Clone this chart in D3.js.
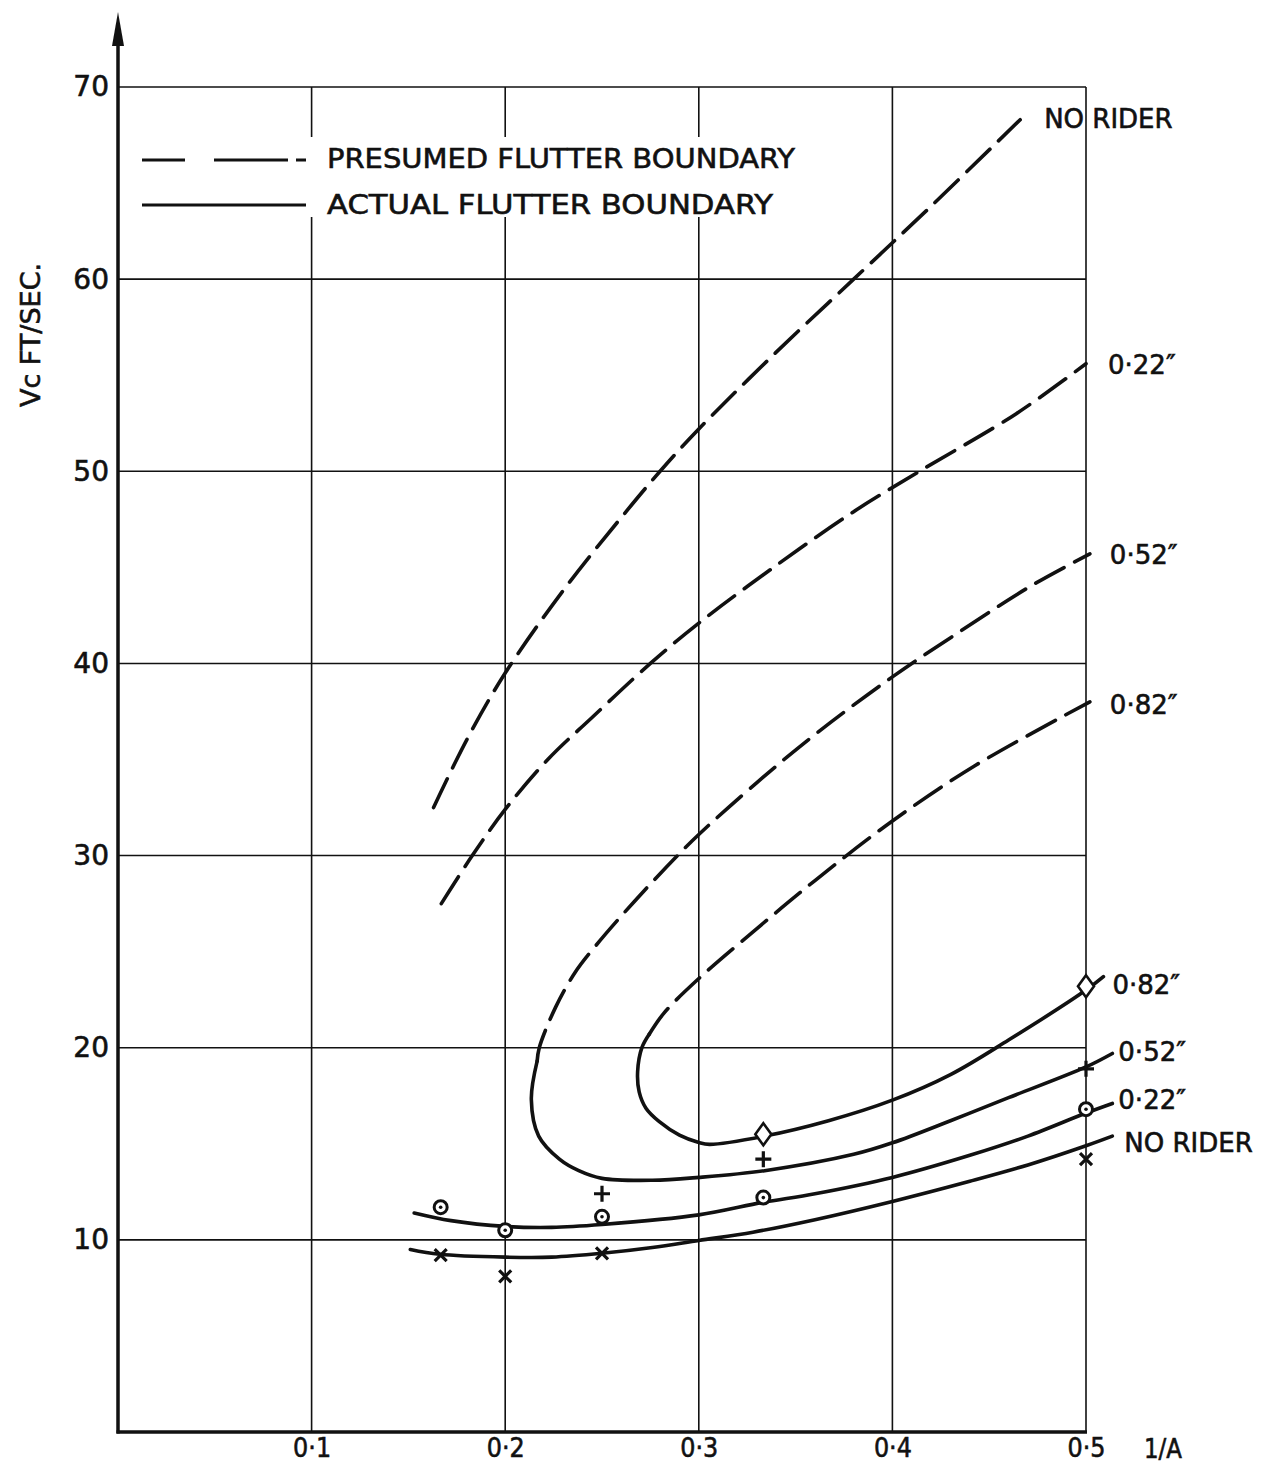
<!DOCTYPE html>
<html>
<head>
<meta charset="utf-8">
<script src="https://cdn.jsdelivr.net/npm/d3@7"></script>
<style>
  body { margin: 0; background: #fff; }
  text { font-family: "DejaVu Sans", sans-serif; fill: #111; stroke: #111; stroke-width: 0.6; }
</style>
</head>
<body>
<svg id="chart" width="1263" height="1466"></svg>
<script>
// tick values / labels
var xTicks = [0.1, 0.2, 0.3, 0.4, 0.5];
var xTickLabels = ["0·1", "0·2", "0·3", "0·4", "0·5"];
var yTicks = [10, 20, 30, 40, 50, 60, 70];

// presumed flutter boundary (dashed), 1/A vs Vc
var presumedNoRider = [[0.163, 32.5], [0.18, 36.0], [0.2, 39.5], [0.23, 43.8], [0.26, 47.6], [0.28, 50], [0.3, 52.2], [0.34, 56.2], [0.38, 60], [0.42, 63.8], [0.466, 68.3]];
var presumed022 = [[0.167, 27.5], [0.183, 30], [0.2, 32.4], [0.222, 35], [0.245, 37.2], [0.275, 40], [0.3, 42.1], [0.34, 45.1], [0.38, 47.9], [0.414, 50], [0.464, 53], [0.5, 55.6]];
var presumed052 = [[0.2165, 19.3], [0.2176, 20], [0.226, 22.1], [0.236, 23.9], [0.2467, 25.3], [0.2666, 27.6], [0.289, 30], [0.3, 31.1], [0.33, 33.8], [0.36, 36.3], [0.4, 39.3], [0.437, 41.8], [0.471, 44], [0.502, 45.7]];
var presumed082 = [[0.2744, 20.7], [0.282, 21.8], [0.3, 23.6], [0.33, 26.2], [0.36, 28.7], [0.4, 31.8], [0.443, 34.7], [0.502, 38.0]];

// actual flutter boundary (solid)
var actualNoRider = [[0.151, 9.5], [0.166, 9.25], [0.2, 9.1], [0.224, 9.1], [0.25, 9.3], [0.276, 9.6], [0.3, 9.97], [0.328, 10.4], [0.36, 11.05], [0.4, 12.0], [0.44, 13.05], [0.47, 13.9], [0.5, 14.9], [0.5136, 15.4]];
var actual022 = [[0.153, 11.4], [0.172, 11.0], [0.2, 10.7], [0.224, 10.65], [0.25, 10.8], [0.3, 11.3], [0.333, 11.95], [0.36, 12.4], [0.4, 13.25], [0.44, 14.4], [0.47, 15.4], [0.5, 16.6], [0.5136, 17.1]];
var actual052 = [[0.2165, 19.3], [0.2135, 17.3], [0.2173, 15.4], [0.228, 14.2], [0.238, 13.6], [0.25, 13.2], [0.276, 13.1], [0.3, 13.25], [0.334, 13.6], [0.38, 14.45], [0.4, 15.05], [0.43, 16.2], [0.46, 17.4], [0.5, 19.0], [0.5136, 19.7]];
var actual082 = [[0.2744, 20.7], [0.2706, 20], [0.2684, 18.75], [0.2692, 17.7], [0.2727, 16.85], [0.2796, 16.15], [0.29, 15.45], [0.3, 15.07], [0.3055, 14.97], [0.334, 15.4], [0.367, 16.2], [0.4, 17.27], [0.43, 18.6], [0.46, 20.4], [0.5, 23.0], [0.509, 23.7]];

// test points
var ptsNoRider = [[1 / 6, 9.2], [0.2, 8.1], [0.25, 9.3], [0.5, 14.2]];
var pts022 = [[1 / 6, 11.7], [0.2, 10.5], [0.25, 11.2], [1 / 3, 12.2], [0.5, 16.8]];
var pts052 = [[0.25, 12.4], [1 / 3, 14.2], [0.5, 18.9]];
var pts082 = [[1 / 3, 15.5], [0.5, 23.2]];

var svg = d3.select("#chart");

var xScale = d3.scaleLinear().domain([0, 0.5]).range([118, 1086]);
var yScale = d3.scaleLinear().domain([0, 70]).range([1432, 87]);

var line = d3.line()
    .x(function (d) { return xScale(d[0]); })
    .y(function (d) { return yScale(d[1]); })
    .curve(d3.curveCatmullRom.alpha(0.5));

// grid
var grid = svg.append("g").attr("stroke", "#111").attr("stroke-width", 1.6);
grid.selectAll(".vgrid")
    .data(xTicks).enter()
    .append("line")
    .attr("x1", function (d) { return xScale(d); })
    .attr("x2", function (d) { return xScale(d); })
    .attr("y1", yScale(0))
    .attr("y2", yScale(70));
grid.selectAll(".hgrid")
    .data(yTicks).enter()
    .append("line")
    .attr("x1", xScale(0))
    .attr("x2", xScale(0.5))
    .attr("y1", function (d) { return yScale(d); })
    .attr("y2", function (d) { return yScale(d); });

// legend (white box breaks the grid)
var legend = svg.append("g");
legend.append("rect")
    .attr("x", 128).attr("y", 137)
    .attr("width", 680).attr("height", 80)
    .attr("fill", "#fff");
legend.append("path")
    .attr("d", "M142,160 L185,160 M214,160 L288,160 M296,160 L306,160")
    .attr("stroke", "#111").attr("stroke-width", 3.2);
legend.append("path")
    .attr("d", "M142,205 L306,205")
    .attr("stroke", "#111").attr("stroke-width", 3.2);
legend.append("text")
    .attr("x", 327).attr("y", 168)
    .attr("font-size", 27)
    .attr("textLength", 468)
    .attr("lengthAdjust", "spacingAndGlyphs")
    .text("PRESUMED FLUTTER BOUNDARY");
legend.append("text")
    .attr("x", 327).attr("y", 214)
    .attr("font-size", 27)
    .attr("textLength", 446)
    .attr("lengthAdjust", "spacingAndGlyphs")
    .text("ACTUAL FLUTTER BOUNDARY");

// axes lines
var axis = svg.append("g");
axis.append("line")
    .attr("x1", xScale(0)).attr("x2", xScale(0))
    .attr("y1", yScale(0) + 1.5).attr("y2", 40)
    .attr("stroke", "#111").attr("stroke-width", 3.5);
axis.append("path")
    .attr("d", "M" + xScale(0) + ",12 L" + (xScale(0) - 6) + ",46 L" + (xScale(0) + 6) + ",46 Z")
    .attr("fill", "#111");
axis.append("line")
    .attr("x1", xScale(0) - 1.5).attr("x2", xScale(0.5) + 1)
    .attr("y1", yScale(0)).attr("y2", yScale(0))
    .attr("stroke", "#111").attr("stroke-width", 3.5);

// tick labels
var xAxis = d3.axisBottom(xScale)
    .tickValues(xTicks)
    .tickSize(0)
    .tickPadding(7)
    .tickFormat(function (d, i) { return xTickLabels[i]; });
var gx = svg.append("g")
    .attr("transform", "translate(0," + yScale(0) + ")")
    .call(xAxis);
gx.select(".domain").remove();
gx.selectAll("text")
    .attr("font-size", 26)
    .attr("font-family", "DejaVu Sans")
    .attr("textLength", 38)
    .attr("lengthAdjust", "spacingAndGlyphs")
    .attr("fill", "#111");

var yAxis = d3.axisLeft(yScale)
    .tickValues(yTicks)
    .tickSize(0)
    .tickPadding(9);
var gy = svg.append("g")
    .attr("transform", "translate(" + xScale(0) + ",0)")
    .call(yAxis);
gy.select(".domain").remove();
gy.selectAll("text")
    .attr("font-size", 28)
    .attr("font-family", "DejaVu Sans")
    .attr("fill", "#111");

svg.append("text")
    .attr("x", xScale(0.5) + 58).attr("y", yScale(0) + 26)
    .attr("font-size", 26)
    .attr("textLength", 38)
    .attr("lengthAdjust", "spacingAndGlyphs")
    .text("1/A");

svg.append("text")
    .attr("transform", "translate(40,335) rotate(-90)")
    .attr("text-anchor", "middle")
    .attr("font-size", 27)
    .text("Vc FT/SEC.");

// curves
var chart = svg.append("g")
    .attr("fill", "none")
    .attr("stroke", "#111")
    .attr("stroke-width", 3.6)
    .attr("stroke-linecap", "round");

var presumed = [presumedNoRider, presumed022, presumed052, presumed082];
var actual = [actualNoRider, actual022, actual052, actual082];

chart.selectAll(".presumed")
    .data(presumed).enter()
    .append("path")
    .attr("class", "presumed")
    .attr("d", line)
    .attr("stroke-dasharray", "32,12");

chart.selectAll(".actual")
    .data(actual).enter()
    .append("path")
    .attr("class", "actual")
    .attr("d", line);

// curve labels
var rightLabels = ["NO RIDER", "0·22″", "0·52″", "0·82″"];
var topOffsets = [[24, 8], [22, 10], [20, 10], [20, 12]];
var botOffsets = [[12, 16], [6, 6], [6, 8], [9, 17]];

svg.selectAll(".toplab")
    .data(presumed).enter()
    .append("text")
    .attr("x", function (d, i) { return xScale(d[d.length - 1][0]) + topOffsets[i][0]; })
    .attr("y", function (d, i) { return yScale(d[d.length - 1][1]) + topOffsets[i][1]; })
    .attr("font-size", 26)
    .text(function (d, i) { return rightLabels[i]; });

svg.selectAll(".botlab")
    .data(actual).enter()
    .append("text")
    .attr("x", function (d, i) { return xScale(d[d.length - 1][0]) + botOffsets[i][0]; })
    .attr("y", function (d, i) { return yScale(d[d.length - 1][1]) + botOffsets[i][1]; })
    .attr("font-size", 26)
    .text(function (d, i) { return rightLabels[i]; });

// markers
var mk = svg.append("g").attr("stroke", "#111").attr("fill", "none").attr("stroke-width", 2.6);

mk.selectAll(".cross")
    .data(ptsNoRider).enter()
    .append("path")
    .attr("d", function (d) {
        var cx = xScale(d[0]), cy = yScale(d[1]), s = 6;
        return "M" + (cx - s) + "," + (cy - s) + "L" + (cx + s) + "," + (cy + s) +
            "M" + (cx - s) + "," + (cy + s) + "L" + (cx + s) + "," + (cy - s);
    })
    .attr("stroke-width", 3.2);

var circ = mk.selectAll(".circ")
    .data(pts022).enter()
    .append("g")
    .attr("transform", function (d) { return "translate(" + xScale(d[0]) + "," + yScale(d[1]) + ")"; });
circ.append("circle").attr("r", 6.5).attr("fill", "#fff").attr("stroke-width", 3);
circ.append("circle").attr("r", 1.8).attr("fill", "#111").attr("stroke", "none");

mk.selectAll(".plus")
    .data(pts052).enter()
    .append("path")
    .attr("d", function (d) {
        var cx = xScale(d[0]), cy = yScale(d[1]), s = 8;
        return "M" + (cx - s) + "," + cy + "L" + (cx + s) + "," + cy +
            "M" + cx + "," + (cy - s) + "L" + cx + "," + (cy + s);
    })
    .attr("stroke-width", 3.2);

mk.selectAll(".diamond")
    .data(pts082).enter()
    .append("path")
    .attr("d", function (d) {
        var cx = xScale(d[0]), cy = yScale(d[1]);
        return "M" + cx + "," + (cy - 11) + "L" + (cx + 8) + "," + cy + "L" + cx + "," + (cy + 11) + "L" + (cx - 8) + "," + cy + "Z";
    })
    .attr("fill", "#fff");
</script>
</body>
</html>
